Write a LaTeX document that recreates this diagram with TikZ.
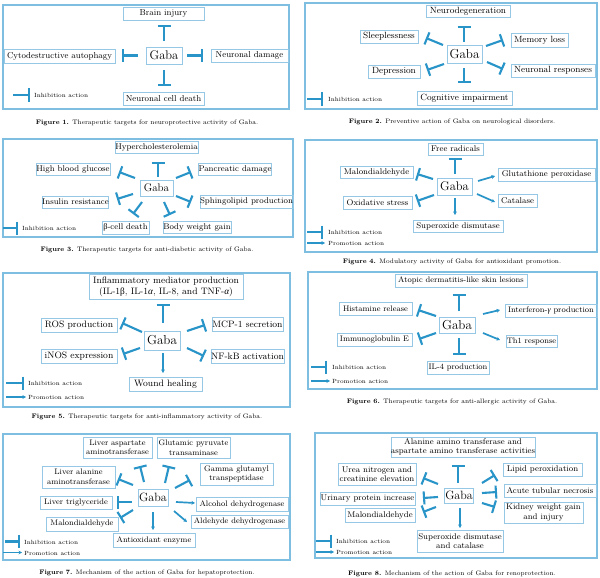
\documentclass[tikz,border=0pt]{standalone}
\usepackage{fontspec}
\newfontfamily\grk{Liberation Serif}
\usetikzlibrary{arrows.meta}
\definecolor{cblue}{RGB}{40,148,200}
\definecolor{framec}{RGB}{125,190,225}
\definecolor{boxc}{RGB}{150,200,230}
\begin{document}
\begin{tikzpicture}[x=1pt,y=-1pt,
  panelframe/.style={draw=framec, line width=1.4pt},
  bx/.style={draw=boxc, line width=0.7pt, inner sep=0pt, align=center},
  inh/.style={draw=cblue, line width=2.1pt, -{Bar[width=13pt]}},
  pro/.style={draw=cblue, line width=1.7pt, -{Stealth[length=3.5pt,width=3.8pt]}},
  legtxt/.style={anchor=west, inner sep=0pt, font=\fontsize{6}{7}\selectfont},
  figcap/.style={inner sep=0pt, font=\fontsize{6.5}{7}\selectfont},
  fa/.style={font=\fontsize{8.6}{10}\selectfont},
  fb/.style={font=\fontsize{9}{10.5}\selectfont},
  fc/.style={font=\fontsize{8.3}{9.5}\selectfont},
  fd/.style={font=\fontsize{9.3}{11}\selectfont},
  fe/.style={font=\fontsize{8}{9.5}\selectfont},
  gaba/.style={bx, font=\fontsize{12.5}{14}\selectfont}
]
\useasboundingbox (0,0) rectangle (600,578);
\fill[white] (0,0) rectangle (600,578);

% ---------------- Panel 1
\draw[panelframe] (3,5) rectangle (289,109);
\node[gaba, minimum width=36pt, minimum height=17pt] (g1) at (164,55.5) {Gaba};
\node[bx, fa, minimum width=81pt, minimum height=13pt] (b1a) at (163.5,13.5) {Brain injury};
\node[bx, fa, minimum width=111pt, minimum height=14pt] (b1b) at (59.5,56) {Cytodestructive autophagy};
\node[bx, fa, minimum width=77pt, minimum height=13pt] (b1c) at (249.5,55.5) {Neuronal damage};
\node[bx, fa, minimum width=81pt, minimum height=13pt] (b1d) at (163.5,98.5) {Neuronal cell death};
\draw[inh] ([shift={(0,-14.5)}]g1.center) -- ([shift={(0.5,11.5)}]b1a.center);
\draw[inh] ([shift={(-26,0)}]g1.center) -- ([shift={(62.5,-0.5)}]b1b.center);
\draw[inh] ([shift={(23,0)}]g1.center) -- ([shift={(-46.5,0)}]b1c.center);
\draw[inh] ([shift={(0,14.5)}]g1.center) -- ([shift={(0.5,-12.5)}]b1d.center);
\coordinate (l1s) at (13,95); \coordinate (l1e) at (30,95);
\draw[inh] (l1s) -- (l1e);
\node[legtxt] (l1t) at (34,95.5) {Inhibition action};
\node[figcap] (c1) at (147,123) {\textbf{Figure 1.} Therapeutic targets for neuroprotective activity of Gaba.};

% ---------------- Panel 2
\draw[panelframe] (305,3) rectangle (597,109);
\node[gaba, font=\fontsize{13}{15}\selectfont, minimum width=35pt, minimum height=18pt] (g2) at (464.5,54) {Gaba};
\node[bx, fb, minimum width=84pt, minimum height=12pt] (b2a) at (468,11) {Neurodegeneration};
\node[bx, fb, minimum width=58pt, minimum height=13pt] (b2b) at (389,36.5) {Sleeplessness};
\node[bx, fb, minimum width=57pt, minimum height=14pt] (b2c) at (539.5,40) {Memory loss};
\node[bx, fb, minimum width=52pt, minimum height=13pt] (b2d) at (394,71.5) {Depression};
\node[bx, fb, minimum width=84pt, minimum height=13pt] (b2e) at (553,70.5) {Neuronal responses};
\node[bx, fb, minimum width=95pt, minimum height=14pt] (b2f) at (464.5,98) {Cognitive impairment};
\draw[inh] ([shift={(-0.5,-12)}]g2.center) -- ([shift={(-4,15)}]b2a.center);
\draw[inh] ([shift={(-21.5,-9)}]g2.center) -- ([shift={(37,1.5)}]b2b.center);
\draw[inh] ([shift={(21.5,-8)}]g2.center) -- ([shift={(-36.5,0)}]b2c.center);
\draw[inh] ([shift={(-20.5,10)}]g2.center) -- ([shift={(33,-1.5)}]b2d.center);
\draw[inh] ([shift={(22.5,8)}]g2.center) -- ([shift={(-50,-1.5)}]b2e.center);
\draw[inh] ([shift={(-0.5,14)}]g2.center) -- ([shift={(-0.5,-15)}]b2f.center);
\coordinate (l2s) at (307,99); \coordinate (l2e) at (323,99);
\draw[inh] (l2s) -- (l2e);
\node[legtxt] (l2t) at (328,99.5) {Inhibition action};
\node[figcap] (c2) at (452,122) {\textbf{Figure 2.} Preventive action of Gaba on neurological disorders.};

% ---------------- Panel 3
\draw[panelframe] (3,139) rectangle (293,237);
\node[gaba, font=\fontsize{11}{13}\selectfont, minimum width=33pt, minimum height=16pt] (g3) at (156.5,188) {Gaba};
\node[bx, fc, minimum width=83pt, minimum height=12pt] (b3a) at (156.5,147.5) {Hypercholesterolemia};
\node[bx, fc, minimum width=74pt, minimum height=12pt] (b3b) at (73,169) {High blood glucose};
\node[bx, fc, minimum width=72pt, minimum height=12pt] (b3c) at (235,169) {Pancreatic damage};
\node[bx, fc, minimum width=65pt, minimum height=12pt] (b3d) at (75.5,202) {Insulin resistance};
\node[bx, fc, minimum width=91pt, minimum height=13pt] (b3e) at (246.5,201.5) {Sphingolipid production};
\node[bx, fc, minimum width=47pt, minimum height=13pt] (b3f) at (125.5,227.5) {{\grk β}-cell death};
\node[bx, fc, minimum width=68pt, minimum height=12pt] (b3g) at (197,227) {Body weight gain};
\draw[inh] ([shift={(1.5,-11)}]g3.center) -- ([shift={(1.5,14.5)}]b3a.center);
\draw[inh] ([shift={(-21.5,-10)}]g3.center) -- ([shift={(46,3)}]b3b.center);
\draw[inh] ([shift={(19.5,-10)}]g3.center) -- ([shift={(-44,3)}]b3c.center);
\draw[inh] ([shift={(-23.5,6)}]g3.center) -- ([shift={(41.5,-3)}]b3d.center);
\draw[inh] ([shift={(19.5,8)}]g3.center) -- ([shift={(-55.5,0.5)}]b3e.center);
\draw[inh] ([shift={(-14.5,14)}]g3.center) -- ([shift={(7.5,-13.5)}]b3f.center);
\draw[inh] ([shift={(7.5,14)}]g3.center) -- ([shift={(-27,-12)}]b3g.center);
\coordinate (l3s) at (3,228); \coordinate (l3e) at (18,228);
\draw[inh] (l3s) -- (l3e);
\node[legtxt] (l3t) at (22,228.5) {Inhibition action};
\node[figcap] (c3) at (147,250) {\textbf{Figure 3.} Therapeutic targets for anti-diabetic activity of Gaba.};

% ---------------- Panel 4
\draw[panelframe] (305,140) rectangle (597,252);
\node[gaba, minimum width=35pt, minimum height=17pt] (g4) at (454.5,186.5) {Gaba};
\node[bx, fc, minimum width=55pt, minimum height=12pt] (b4a) at (455.5,149) {Free radicals};
\node[bx, fc, minimum width=73pt, minimum height=12pt] (b4b) at (376.5,172) {Malondialdehyde};
\node[bx, fc, minimum width=69pt, minimum height=13pt] (b4c) at (377.5,202.5) {Oxidative stress};
\node[bx, fc, minimum width=97pt, minimum height=13pt] (b4d) at (546.5,174.5) {Glutathione peroxidase};
\node[bx, fc, minimum width=39pt, minimum height=13pt] (b4e) at (517.5,200.5) {Catalase};
\node[bx, fc, minimum width=90pt, minimum height=12pt] (b4f) at (458,226) {Superoxide dismutase};
\draw[inh] ([shift={(0.5,-12.5)}]g4.center) -- ([shift={(-0.5,9)}]b4a.center);
\draw[inh] ([shift={(-21.5,-7.5)}]g4.center) -- ([shift={(40.5,2)}]b4b.center);
\draw[inh] ([shift={(-20.5,8.5)}]g4.center) -- ([shift={(39.5,-1.5)}]b4c.center);
\draw[pro] ([shift={(23.5,-5.5)}]g4.center) -- ([shift={(-51.5,1.5)}]b4d.center);
\draw[pro] ([shift={(22.5,7.5)}]g4.center) -- ([shift={(-22.5,1.5)}]b4e.center);
\draw[pro] ([shift={(0.5,11.5)}]g4.center) -- ([shift={(-3,-11)}]b4f.center);
\coordinate (l4s) at (307,232); \coordinate (l4e) at (323,232);
\draw[inh] (l4s) -- (l4e);
\node[legtxt] (l4t) at (328,232.5) {Inhibition action};
\coordinate (l4p) at (307,243); \coordinate (l4q) at (325,243);
\draw[pro] (l4p) -- (l4q);
\node[legtxt] (l4u) at (328,243.5) {Promotion action};
\node[figcap] (c4) at (452,262) {\textbf{Figure 4.} Modulatory activity of Gaba for antioxidant promotion.};

% ---------------- Panel 5
\draw[panelframe] (3,273) rectangle (290,407);
\node[gaba, font=\fontsize{13}{15}\selectfont, minimum width=36pt, minimum height=19pt] (g5) at (162,340.5) {Gaba};
\node[bx, fd, minimum width=154pt, minimum height=25pt] (b5a) at (166,286.5) {Inflammatory mediator production\\(IL-1{\grk β}, IL-1{\grk\itshape α}, IL-8, and TNF-{\grk\itshape α})};
\node[bx, fd, minimum width=76pt, minimum height=14pt] (b5b) at (79,325) {ROS production};
\node[bx, fd, minimum width=71pt, minimum height=14pt] (b5c) at (247.5,324) {MCP-1 secretion};
\node[bx, fd, minimum width=76pt, minimum height=14pt] (b5d) at (79,356) {iNOS expression};
\node[bx, fd, minimum width=71pt, minimum height=14pt] (b5e) at (247.5,356) {NF-kB activation};
\node[bx, fd, minimum width=73pt, minimum height=14pt] (b5f) at (165.5,384) {Wound healing};
\draw[inh] ([shift={(1,-17.5)}]g5.center) -- ([shift={(-3,17.5)}]b5a.center);
\draw[inh] ([shift={(-20,-8.5)}]g5.center) -- ([shift={(43,-2)}]b5b.center);
\draw[inh] ([shift={(25,-9.5)}]g5.center) -- ([shift={(-42.5,1)}]b5c.center);
\draw[inh] ([shift={(-22,7.5)}]g5.center) -- ([shift={(44,-2)}]b5d.center);
\draw[inh] ([shift={(25,7.5)}]g5.center) -- ([shift={(-43.5,0)}]b5e.center);
\draw[pro] ([shift={(1,12.5)}]g5.center) -- ([shift={(-2.5,-11)}]b5f.center);
\coordinate (l5s) at (6,383); \coordinate (l5e) at (24,383);
\draw[inh] (l5s) -- (l5e);
\node[legtxt] (l5t) at (28,383.5) {Inhibition action};
\coordinate (l5p) at (6,397); \coordinate (l5q) at (26,397);
\draw[pro] (l5p) -- (l5q);
\node[legtxt] (l5u) at (28,397.5) {Promotion action};
\node[figcap] (c5) at (147,417) {\textbf{Figure 5.} Therapeutic targets for anti-inflammatory activity of Gaba.};

% ---------------- Panel 6
\draw[panelframe] (308,272) rectangle (597,389);
\node[gaba, font=\fontsize{13}{15}\selectfont, minimum width=36pt, minimum height=16pt] (g6) at (457,325) {Gaba};
\node[bx, fe, minimum width=132pt, minimum height=13pt] (b6a) at (461,280.5) {Atopic dermatitis-like skin lesions};
\node[bx, fe, minimum width=73pt, minimum height=13pt] (b6b) at (375.5,308.5) {Histamine release};
\node[bx, fe, minimum width=75pt, minimum height=13pt] (b6c) at (374.5,339.5) {Immunoglobulin E};
\node[bx, fe, minimum width=92pt, minimum height=13pt] (b6d) at (551,310.5) {Interferon-{\grk\itshape γ} production};
\node[bx, fe, minimum width=51pt, minimum height=12pt] (b6e) at (531.5,341) {Th1 response};
\node[bx, fe, minimum width=62pt, minimum height=13pt] (b6f) at (458,367.5) {IL-4 production};
\draw[inh] ([shift={(2,-14)}]g6.center) -- ([shift={(-2,13.5)}]b6a.center);
\draw[inh] ([shift={(-21,-9)}]g6.center) -- ([shift={(42.5,1.5)}]b6b.center);
\draw[inh] ([shift={(-21,8)}]g6.center) -- ([shift={(44.5,-0.5)}]b6c.center);
\draw[pro] ([shift={(26,-11)}]g6.center) -- ([shift={(-51,-0.5)}]b6d.center);
\draw[pro] ([shift={(26,8)}]g6.center) -- ([shift={(-31.5,-1)}]b6e.center);
\draw[inh] ([shift={(2,13)}]g6.center) -- ([shift={(1,-12.5)}]b6f.center);
\coordinate (l6s) at (311,367); \coordinate (l6e) at (327,367);
\draw[inh] (l6s) -- (l6e);
\node[legtxt] (l6t) at (332,367.5) {Inhibition action};
\coordinate (l6p) at (311,381); \coordinate (l6q) at (330,381);
\draw[pro] (l6p) -- (l6q);
\node[legtxt] (l6u) at (332,381.5) {Promotion action};
\node[figcap] (c6) at (452,402) {\textbf{Figure 6.} Therapeutic targets for anti-allergic activity of Gaba.};

% ---------------- Panel 7
\draw[panelframe] (3,434) rectangle (290,560);
\node[gaba, font=\fontsize{12}{14}\selectfont, minimum width=30pt, minimum height=17pt] (g7) at (153,497.5) {Gaba};
\node[bx, fe, minimum width=69pt, minimum height=21pt] (b7a) at (117.5,447.5) {Liver aspartate\\aminotransferase};
\node[bx, fe, minimum width=73pt, minimum height=21pt] (b7b) at (193.5,447.5) {Glutamic pyruvate\\transaminase};
\node[bx, fe, minimum width=73pt, minimum height=22pt] (b7c) at (78.5,477) {Liver alanine\\aminotransferase};
\node[bx, fe, minimum width=73pt, minimum height=22pt] (b7d) at (236.5,474) {Gamma glutamyl\\transpeptidase};
\node[bx, fe, minimum width=72pt, minimum height=13pt] (b7e) at (76,502.5) {Liver triglyceride};
\node[bx, fe, minimum width=92pt, minimum height=14pt] (b7f) at (242,504) {Alcohol dehydrogenase};
\node[bx, fe, minimum width=72pt, minimum height=14pt] (b7g) at (82,524) {Malondialdehyde};
\node[bx, fe, minimum width=97pt, minimum height=13pt] (b7h) at (239.5,521.5) {Aldehyde dehydrogenase};
\node[bx, fe, minimum width=82pt, minimum height=14pt] (b7i) at (154,540) {Antioxidant enzyme};
\draw[inh] ([shift={(-9,-15.5)}]g7.center) -- ([shift={(22.5,18.5)}]b7a.center);
\draw[inh] ([shift={(12,-14.5)}]g7.center) -- ([shift={(-24.5,18.5)}]b7b.center);
\draw[inh] ([shift={(-20,-12.5)}]g7.center) -- ([shift={(39.5,2)}]b7c.center);
\draw[inh] ([shift={(22,-9.5)}]g7.center) -- ([shift={(-46.5,6)}]b7d.center);
\draw[inh] ([shift={(-21,4.5)}]g7.center) -- ([shift={(41,-0.5)}]b7e.center);
\draw[pro] ([shift={(23,4.5)}]g7.center) -- ([shift={(-47,-1)}]b7f.center);
\draw[inh] ([shift={(-20,12.5)}]g7.center) -- ([shift={(38,-6)}]b7g.center);
\draw[pro] ([shift={(21,13.5)}]g7.center) -- ([shift={(-52.5,0.5)}]b7h.center);
\draw[pro] ([shift={(0,14.5)}]g7.center) -- ([shift={(-1,-10)}]b7i.center);
\coordinate (l7s) at (5,541.5); \coordinate (l7e) at (20,541.5);
\draw[inh] (l7s) -- (l7e);
\node[legtxt] (l7t) at (24,542) {Inhibition action};
\coordinate (l7p) at (3,552.5); \coordinate (l7q) at (22,552.5);
\draw[pro] (l7p) -- (l7q);
\node[legtxt] (l7u) at (24,553) {Promotion action};
\node[figcap] (c7) at (147,573) {\textbf{Figure 7.} Mechanism of the action of Gaba for hepatoprotection.};

% ---------------- Panel 8
\draw[panelframe] (315,433) rectangle (597,558);
\node[gaba, font=\fontsize{12}{14}\selectfont, minimum width=29pt, minimum height=15pt] (g8) at (459,495.5) {Gaba};
\node[bx, fc, minimum width=140pt, minimum height=20pt] (b8a) at (463,447) {Alanine amino transferase and\\aspartate amino transferase activities};
\node[bx, fc, minimum width=78pt, minimum height=22pt] (b8b) at (377,474) {Urea nitrogen and\\creatinine elevation};
\node[bx, fc, minimum width=95pt, minimum height=13pt] (b8c) at (367.5,498.5) {Urinary protein increase};
\node[bx, fc, minimum width=70pt, minimum height=14pt] (b8d) at (380,515) {Malondialdehyde};
\node[bx, fc, minimum width=79pt, minimum height=13pt] (b8e) at (542.5,469.5) {Lipid peroxidation};
\node[bx, fc, minimum width=92pt, minimum height=13pt] (b8f) at (550,490.5) {Acute tubular necrosis};
\node[bx, fc, minimum width=79pt, minimum height=21pt] (b8g) at (543.5,512.5) {Kidney weight gain\\and injury};
\node[bx, fc, minimum width=86pt, minimum height=22pt] (b8h) at (460,541) {Superoxide dismutase\\and catalase};
\draw[inh] ([shift={(-1,-12.5)}]g8.center) -- ([shift={(-5,18)}]b8a.center);
\draw[inh] ([shift={(-21,-11.5)}]g8.center) -- ([shift={(46,4)}]b8b.center);
\draw[inh] ([shift={(-21,1.5)}]g8.center) -- ([shift={(55.5,-0.5)}]b8c.center);
\draw[inh] ([shift={(-23,11.5)}]g8.center) -- ([shift={(43,-3)}]b8d.center);
\draw[inh] ([shift={(23,-12.5)}]g8.center) -- ([shift={(-47.5,5.5)}]b8e.center);
\draw[inh] ([shift={(23,-2.5)}]g8.center) -- ([shift={(-53,1.5)}]b8f.center);
\draw[inh] ([shift={(23,7.5)}]g8.center) -- ([shift={(-48.5,-5.5)}]b8g.center);
\draw[pro] ([shift={(1,12.5)}]g8.center) -- ([shift={(0,-13)}]b8h.center);
\coordinate (l8s) at (316,541); \coordinate (l8e) at (332,541);
\draw[inh] (l8s) -- (l8e);
\node[legtxt] (l8t) at (336,541.5) {Inhibition action};
\coordinate (l8p) at (316,552); \coordinate (l8q) at (334,552);
\draw[pro] (l8p) -- (l8q);
\node[legtxt] (l8u) at (336,552.5) {Promotion action};
\node[figcap] (c8) at (452,574) {\textbf{Figure 8.} Mechanism of the action of Gaba for renoprotection.};
\end{tikzpicture}
\end{document}
